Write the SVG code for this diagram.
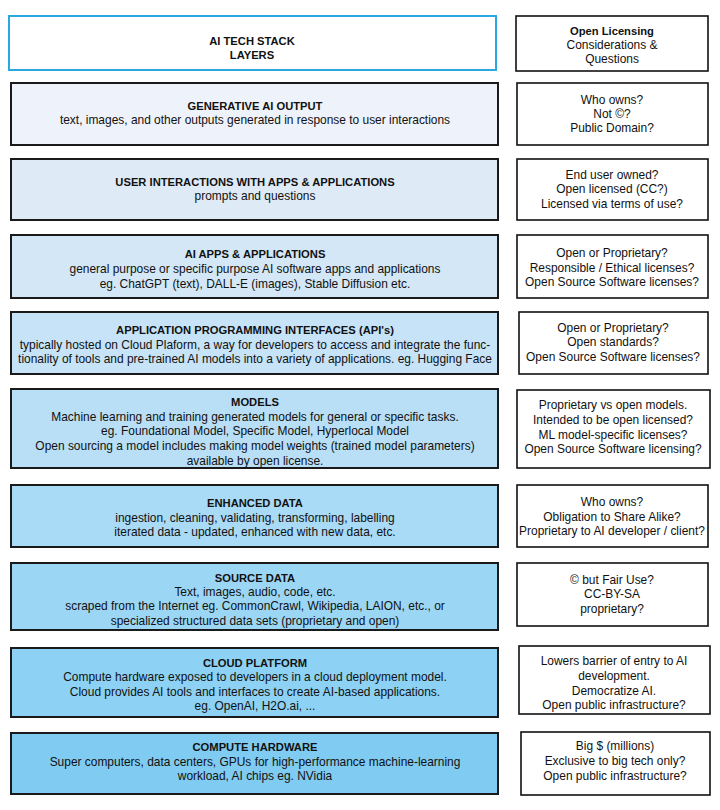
<svg xmlns="http://www.w3.org/2000/svg" width="720" height="810" viewBox="0 0 720 810">
<style>
text{font-family:"Liberation Sans",Arial,sans-serif;font-size:11.95px;fill:#111;text-anchor:middle}
.t{font-weight:bold;font-family:"Liberation Sans Narrow","Liberation Sans",Arial,sans-serif;font-size:11.2px}
.L{stroke:#1a1a1a;stroke-width:2}
.R{fill:#fff;stroke:#111;stroke-width:1.6}
</style>
<rect width="720" height="810" fill="#fff"/>
<g id="header-left"><rect x="9" y="16" width="487" height="54" fill="#fff" stroke="#2aa9e0" stroke-width="2"/>
<text class="t" x="252" y="45">AI TECH STACK</text><text class="t" x="252" y="59">LAYERS</text></g>
<g id="header-right"><rect class="R" x="516" y="16" width="192" height="55"/>
<text class="t" x="612" y="35">Open Licensing</text><text x="612" y="49">Considerations &amp;</text><text x="612" y="63">Questions</text></g>

<g id="gen-ai-output"><rect class="L" x="11" y="83" width="487" height="62" fill="#eef2fa"/>
<text class="t" x="255" y="110">GENERATIVE AI OUTPUT</text>
<text x="255" y="124">text, images, and other outputs generated in response to user interactions</text></g>
<g id="q-gen-ai-output"><rect class="R" x="517" y="83" width="191" height="62"/>
<text x="612" y="104">Who owns?</text><text x="612" y="118">Not ©?</text><text x="612" y="132">Public Domain?</text></g>

<g id="user-interactions"><rect class="L" x="11" y="159" width="487" height="61" fill="#dfeaf7"/>
<text class="t" x="255" y="186">USER INTERACTIONS WITH APPS &amp; APPLICATIONS</text>
<text x="255" y="200">prompts and questions</text></g>
<g id="q-user-interactions"><rect class="R" x="517" y="159" width="191" height="61"/>
<text x="612" y="179">End user owned?</text><text x="612" y="193">Open licensed (CC?)</text><text x="612" y="208">Licensed via terms of use?</text></g>

<g id="ai-apps"><rect class="L" x="11" y="235" width="487" height="63" fill="#d3e7f6"/>
<text class="t" x="255" y="258">AI APPS &amp; APPLICATIONS</text>
<text x="255" y="273">general purpose or specific purpose AI software apps and applications</text>
<text x="255" y="288">eg. ChatGPT (text), DALL-E (images), Stable Diffusion etc.</text></g>
<g id="q-ai-apps"><rect class="R" x="517" y="235" width="191" height="63"/>
<text x="612" y="257">Open or Proprietary?</text><text x="612" y="272">Responsible / Ethical licenses?</text><text x="612" y="286">Open Source Software licenses?</text></g>

<g id="apis"><rect class="L" x="11" y="312" width="487" height="62" fill="#c6e3f7"/>
<text class="t" x="255" y="334">APPLICATION PROGRAMMING INTERFACES (API's)</text>
<text x="255" y="349">typically hosted on Cloud Plaform, a way for developers to access and integrate the func-</text>
<text x="255" y="363">tionality of tools and pre-trained AI models into a variety of applications. eg. Hugging Face</text></g>
<g id="q-apis"><rect class="R" x="519" y="312" width="189" height="62"/>
<text x="613" y="332">Open or Proprietary?</text><text x="613" y="346">Open standards?</text><text x="613" y="361">Open Source Software licenses?</text></g>

<g id="models"><rect class="L" x="11" y="389" width="487" height="79" fill="#b8dff6"/>
<text class="t" x="255" y="406">MODELS</text>
<text x="255" y="421">Machine learning and training generated models for general or specific tasks.</text>
<text x="255" y="435">eg. Foundational Model, Specific Model, Hyperlocal Model</text>
<text x="255" y="450">Open sourcing a model includes making model weights (trained model parameters)</text>
<text x="255" y="465">available by open license.</text></g>
<g id="q-models"><rect class="R" x="517" y="390" width="193" height="78"/>
<text x="613" y="409">Proprietary vs open models.</text><text x="613" y="424">Intended to be open licensed?</text><text x="613" y="439">ML model-specific licenses?</text><text x="613" y="453">Open Source Software licensing?</text></g>

<g id="enhanced-data"><rect class="L" x="11" y="485" width="487" height="62" fill="#a9daf6"/>
<text class="t" x="255" y="507">ENHANCED DATA</text>
<text x="255" y="522">ingestion, cleaning, validating, transforming, labelling</text>
<text x="255" y="536">iterated data - updated, enhanced with new data, etc.</text></g>
<g id="q-enhanced-data"><rect class="R" x="517" y="485" width="191" height="62"/>
<text x="612" y="506">Who owns?</text><text x="612" y="521">Obligation to Share Alike?</text><text x="612" y="535">Proprietary to AI developer / client?</text></g>

<g id="source-data"><rect class="L" x="11" y="563" width="487" height="67" fill="#9cd6f5"/>
<text class="t" x="255" y="582">SOURCE DATA</text>
<text x="255" y="596">Text, images, audio, code, etc.</text>
<text x="255" y="610">scraped from the Internet eg. CommonCrawl, Wikipedia, LAION, etc., or</text>
<text x="255" y="625">specialized structured data sets (proprietary and open)</text></g>
<g id="q-source-data"><rect class="R" x="517" y="563" width="191" height="63"/>
<text x="612" y="584">© but Fair Use?</text><text x="612" y="598">CC-BY-SA</text><text x="612" y="613">proprietary?</text></g>

<g id="cloud-platform"><rect class="L" x="11" y="648" width="487" height="69" fill="#8dd1f4"/>
<text class="t" x="255" y="667">CLOUD PLATFORM</text>
<text x="255" y="681">Compute hardware exposed to developers in a cloud deployment model.</text>
<text x="255" y="696">Cloud provides AI tools and interfaces to create AI-based applications.</text>
<text x="255" y="710">eg. OpenAI, H2O.ai, ...</text></g>
<g id="q-cloud-platform"><rect class="R" x="519" y="646" width="191" height="68"/>
<text x="614" y="665">Lowers barrier of entry to AI</text><text x="614" y="680">development.</text><text x="614" y="695">Democratize AI.</text><text x="614" y="709">Open public infrastructure?</text></g>

<g id="compute-hardware"><rect class="L" x="11" y="733" width="487" height="61" fill="#80cbf2"/>
<text class="t" x="255" y="751">COMPUTE HARDWARE</text>
<text x="255" y="766">Super computers, data centers, GPUs for high-performance machine-learning</text>
<text x="255" y="780">workload, AI chips eg. NVidia</text></g>
<g id="q-compute-hardware"><rect class="R" x="521" y="732" width="189" height="63"/>
<text x="615" y="750">Big $ (millions)</text><text x="615" y="765">Exclusive to big tech only?</text><text x="615" y="780">Open public infrastructure?</text></g>
<g id="connectors"/>
</svg>
